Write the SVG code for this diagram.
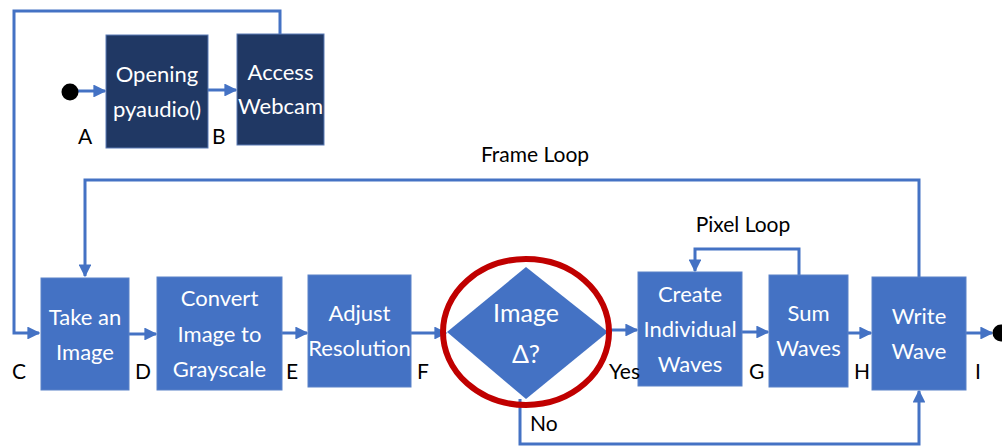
<svg xmlns="http://www.w3.org/2000/svg" width="1002" height="448" viewBox="0 0 1002 448">
<defs>
<style>
.dark{fill:#203864;stroke:#5B7BB5;stroke-width:1}
.box{fill:#4472C4;stroke:#5A82C8;stroke-width:1}
.t{font-family:Lato,"Open Sans","Liberation Sans",sans-serif;font-size:22px;fill:#fff;text-anchor:middle}
.lbl{font-family:Lato,"Open Sans","Liberation Sans",sans-serif;font-size:21px;fill:#000}
.ln{fill:none;stroke:#4472C4;stroke-width:3}
</style>
<marker id="ah" viewBox="0 0 10 10" refX="9" refY="5" markerWidth="4.3" markerHeight="4.3" orient="auto" markerUnits="strokeWidth">
<path d="M0,0 L10,5 L0,10 z" fill="#4472C4"/>
</marker>
</defs>
<rect width="1002" height="448" fill="#fff"/>
<g id="connectors">
<path class="ln" d="M280,34 V11 H14 V333 H39" marker-end="url(#ah)"/>
<path class="ln" d="M78,91 H105" marker-end="url(#ah)"/>
<path class="ln" d="M208,90 H236" marker-end="url(#ah)"/>
<path class="ln" d="M919,277 V180 H85 V276" marker-end="url(#ah)"/>
<path class="ln" d="M129,334 H156" marker-end="url(#ah)"/>
<path class="ln" d="M282,333 H307" marker-end="url(#ah)"/>
<path class="ln" d="M411,333 H446" marker-end="url(#ah)"/>
<path class="ln" d="M608,330 H637" marker-end="url(#ah)"/>
<path class="ln" d="M799,275 V249 H695 V271" marker-end="url(#ah)"/>
<path class="ln" d="M742,332 H768" marker-end="url(#ah)"/>
<path class="ln" d="M848,333 H871" marker-end="url(#ah)"/>
<path class="ln" d="M520,399 V444 H919 V391" marker-end="url(#ah)"/>
<path class="ln" d="M966,333 H992" marker-end="url(#ah)"/>
</g>
<g id="start"><circle cx="70" cy="92" r="8.5" fill="#000"/></g>
<g id="end"><circle cx="1001" cy="333" r="8.5" fill="#000"/></g>
<g id="opening">
<rect class="dark" x="106" y="35" width="102" height="113"/>
<text class="t" x="157" y="82">Opening</text>
<text class="t" x="157" y="117">pyaudio()</text>
</g>
<g id="webcam">
<rect class="dark" x="237" y="34" width="87" height="111"/>
<text class="t" x="280.5" y="80">Access</text>
<text class="t" x="280.5" y="114">Webcam</text>
</g>
<g id="take">
<rect class="box" x="41" y="278" width="88" height="112"/>
<text class="t" x="85" y="325">Take an</text>
<text class="t" x="85" y="360">Image</text>
</g>
<g id="convert">
<rect class="box" x="157" y="277" width="125" height="113"/>
<text class="t" x="219.5" y="306">Convert</text>
<text class="t" x="219.5" y="342">Image to</text>
<text class="t" x="219.5" y="377">Grayscale</text>
</g>
<g id="adjust">
<rect class="box" x="308" y="275" width="103" height="112"/>
<text class="t" x="359.5" y="321">Adjust</text>
<text class="t" x="359.5" y="356">Resolution</text>
</g>
<g id="decision">
<polygon points="447,332 526,267 608,332 526,399" fill="#4472C4"/>
<ellipse cx="526" cy="332" rx="83" ry="73" fill="none" stroke="#C00000" stroke-width="6"/>
<text class="t" x="526" y="322" style="font-size:25px">Image</text>
<text class="t" x="526" y="363" style="font-size:25px">Δ?</text>
</g>
<g id="create">
<rect class="box" x="638" y="272" width="104" height="114"/>
<text class="t" x="690" y="302">Create</text>
<text class="t" x="690" y="337">Individual</text>
<text class="t" x="690" y="372">Waves</text>
</g>
<g id="sum">
<rect class="box" x="769" y="275" width="79" height="112"/>
<text class="t" x="808.5" y="321">Sum</text>
<text class="t" x="808.5" y="356">Waves</text>
</g>
<g id="write">
<rect class="box" x="872" y="277" width="94" height="113"/>
<text class="t" x="919" y="324">Write</text>
<text class="t" x="919" y="359">Wave</text>
</g>
<g id="labels">
<text class="lbl" x="78" y="144">A</text>
<text class="lbl" x="212" y="144">B</text>
<text class="lbl" x="12" y="379">C</text>
<text class="lbl" x="135" y="379">D</text>
<text class="lbl" x="286" y="379">E</text>
<text class="lbl" x="417" y="379">F</text>
<text class="lbl" x="609" y="379">Yes</text>
<text class="lbl" x="749" y="379">G</text>
<text class="lbl" x="854" y="379">H</text>
<text class="lbl" x="975" y="379">I</text>
<text class="lbl" x="530" y="431">No</text>
<text class="lbl" x="535" y="162" text-anchor="middle">Frame Loop</text>
<text class="lbl" x="743" y="232" text-anchor="middle">Pixel Loop</text>
</g>
</svg>
